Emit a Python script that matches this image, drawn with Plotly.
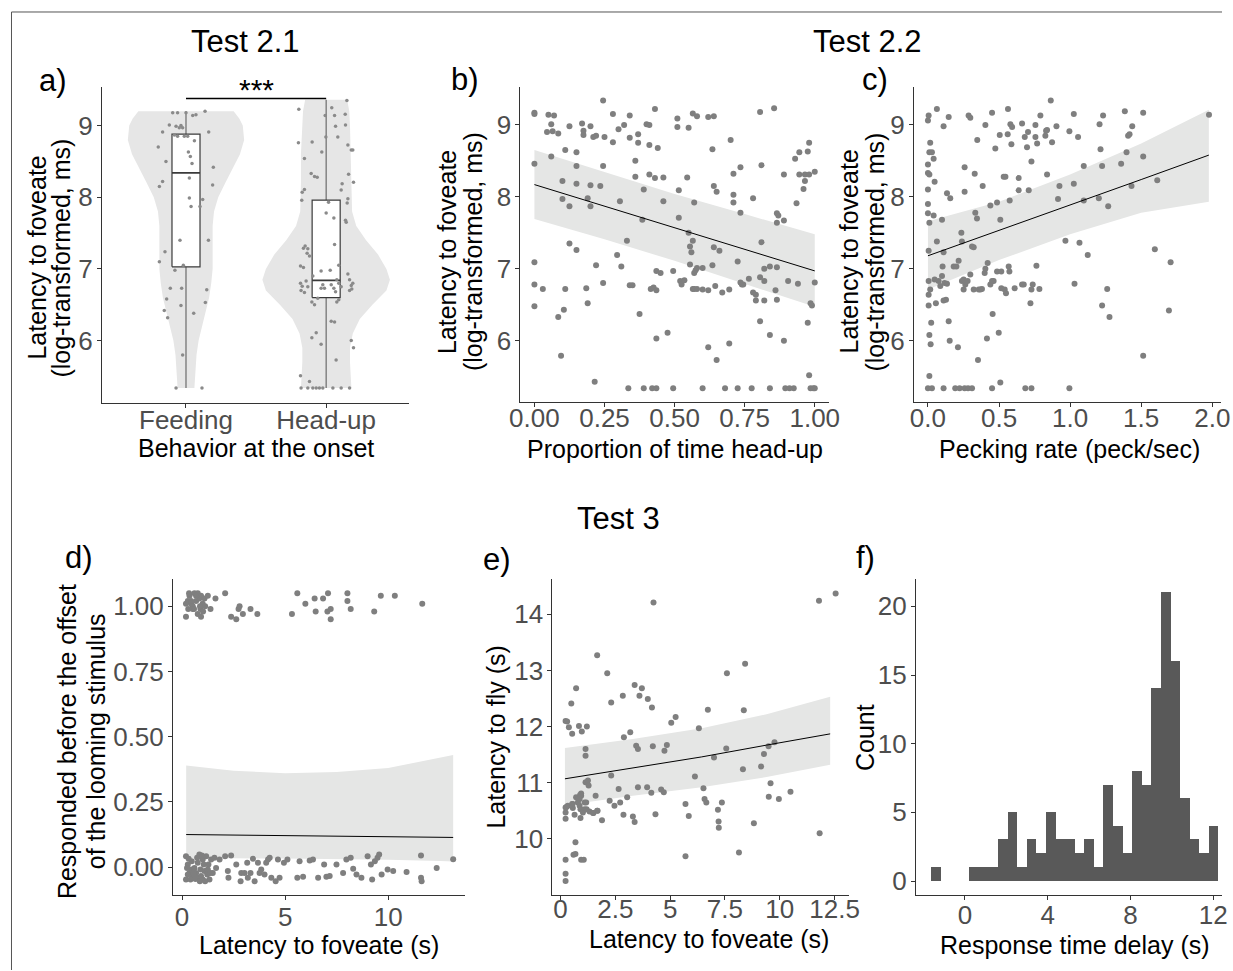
import numpy as np
import plotly.graph_objects as go

W, H = 1233, 971

# The photographed page comes out slightly squeezed horizontally
# (x_photo ~= X_OFF + X_SCALE * x_figure); layout positions below are given in
# target-picture pixels and mapped back through this correction.
X_OFF = 10.2
X_SCALE = 0.981


def fxp(x_target):
    return (x_target - X_OFF) / X_SCALE


def px(x_target):
    return fxp(x_target) / W


def py(y):
    return 1 - y / H


# ======================= DATA =======================
# ---- Panel a : Test 2.1 ----
a_categories = ["Feeding", "Head-up"]
feeding_y = [9.18, 9.18, 9.18, 9.14, 9.15, 9.20, 8.91, 9.01, 8.99, 8.97, 9.00, 8.97, 8.87, 8.85,
             8.85, 8.85, 8.91, 8.79, 8.70, 8.63, 8.57, 8.47, 8.50, 8.42, 8.27, 8.22, 8.15, 8.17,
             7.99, 7.97, 7.87, 7.87, 7.40, 7.40, 7.24, 7.10, 7.05, 6.98, 6.73, 6.73, 6.71, 6.58,
             6.53, 6.49, 6.42, 6.32, 6.38, 5.80, 5.34, 5.34]
feeding_jitter = [-0.095, -0.06, 0.0, 0.048, 0.071, 0.136, -0.167, -0.119, -0.071, -0.048, -0.036,
                  -0.024, -0.083, -0.06, -0.012, 0.012, 0.162, 0.06, -0.198, 0.017, 0.031, 0.043,
                  -0.143, 0.195, 0.024, -0.167, -0.19, 0.19, 0.024, 0.119, 0.036, 0.1, -0.043, 0.16,
                  -0.15, -0.19, -0.019, -0.079, -0.112, -0.031, 0.148, -0.138, 0.138, -0.036, -0.155,
                  -0.131, 0.055, -0.024, -0.071, 0.114]
headup_y = [9.23, 9.25, 9.35, 9.14, 9.14, 9.16, 8.99, 9.01, 8.84, 8.84, 8.76, 8.77, 8.73, 8.66, 8.66,
            8.63, 8.54, 8.33, 8.29, 8.28, 8.32, 8.21, 8.19, 8.07, 8.11, 8.10, 7.98, 7.92, 7.96, 7.93,
            7.78, 7.71, 7.68, 7.65, 7.34, 7.29, 7.32, 7.28, 7.22, 7.18, 7.04, 7.02, 7.05, 6.90, 6.97,
            6.98, 6.80, 6.76, 6.70, 6.67, 6.83, 6.75, 6.73, 6.78, 6.73, 6.78, 6.73, 6.68, 6.85, 6.80,
            6.75, 6.93, 6.85, 6.77, 6.80, 6.70, 6.72, 6.54, 6.50, 6.59, 6.54, 6.57, 6.27, 6.26, 6.04,
            6.11, 5.95, 6.00, 5.90, 5.73, 5.51, 5.43, 5.34, 5.34, 5.34, 5.34, 5.34, 5.34, 5.34, 5.34,
            5.34]
headup_jitter = [-0.195, 0.04, 0.148, -0.007, 0.06, 0.136, 0.067, 0.138, -0.002, 0.083, -0.198, -0.1,
                 0.155, 0.179, 0.19, -0.031, -0.155, -0.107, -0.083, -0.064, 0.16, 0.195, 0.114,
                 -0.171, -0.155, 0.107, 0.155, 0.15, -0.174, 0.017, 0.0, 0.055, 0.138, 0.143, 0.06,
                 -0.162, -0.15, -0.131, -0.136, -0.119, -0.183, -0.162, 0.09, -0.095, -0.036, 0.029,
                 -0.183, -0.171, -0.179, -0.155, -0.143, -0.131, -0.036, -0.024, -0.012, 0.036, 0.055,
                 0.067, 0.076, 0.09, 0.107, 0.155, 0.167, 0.179, 0.19, 0.167, 0.183, -0.102, -0.083,
                 -0.06, 0.076, 0.09, 0.036, 0.06, -0.102, -0.071, -0.036, 0.179, 0.195, 0.071, -0.183,
                 -0.119, -0.179, -0.131, -0.095, -0.071, -0.048, -0.024, 0.048, 0.107, 0.167]
box_lower = [5.34, 5.34]
box_q1 = [7.03, 6.60]
box_median = [8.34, 6.84]
box_q3 = [8.88, 7.96]
box_upper = [9.20, 9.36]
box_halfwidth = 0.1
violin_feed_y = [5.34, 5.6, 5.8, 6.0, 6.2, 6.4, 6.6, 6.8, 7.0, 7.2, 7.4, 7.6, 7.8, 8.0, 8.2, 8.4,
                 8.6, 8.8, 9.0, 9.1, 9.2]
violin_feed_hw = [0.06, 0.07, 0.075, 0.09, 0.115, 0.14, 0.165, 0.18, 0.19, 0.19, 0.19, 0.19, 0.2,
                  0.23, 0.28, 0.33, 0.385, 0.415, 0.405, 0.38, 0.34]
violin_head_y = [5.34, 5.5, 5.7, 5.9, 6.1, 6.3, 6.5, 6.7, 6.85, 7.0, 7.2, 7.4, 7.6, 7.8, 8.2, 8.6,
                 9.0, 9.2, 9.36]
violin_head_hw = [0.18, 0.175, 0.17, 0.17, 0.19, 0.24, 0.33, 0.43, 0.455, 0.43, 0.37, 0.285, 0.215,
                  0.185, 0.18, 0.18, 0.17, 0.165, 0.15]
sig_label = "***"
sig_y = 9.38

# ---- Panel b : proportion of time head-up ----
b_x = [0.00, 0.00, 0.05, 0.07, 0.06, 0.045, 0.065, 0.085, 0.125, 0.06, 0.00,
       0.17, 0.175, 0.175, 0.20, 0.21, 0.22, 0.25, 0.245, 0.28, 0.30, 0.28, 0.32, 0.34, 0.34, 0.37,
       0.37, 0.40, 0.41, 0.41, 0.44, 0.43, 0.36, 0.36, 0.41, 0.43, 0.46, 0.46, 0.39,
       0.11, 0.15, 0.15, 0.15, 0.10, 0.10, 0.125, 0.19, 0.20, 0.20, 0.235, 0.245, 0.305,
       0.00, 0.00, 0.03, 0.00, 0.11, 0.105, 0.085, 0.095, 0.125, 0.15, 0.185, 0.19, 0.215, 0.22,
       0.245, 0.295, 0.31, 0.33, 0.34, 0.35, 0.375, 0.385, 0.435, 0.435, 0.45, 0.415, 0.425, 0.435,
       0.475, 0.495, 0.335, 0.39, 0.42, 0.435, 0.495,
       0.51, 0.51, 0.55, 0.565, 0.58, 0.515, 0.515, 0.545, 0.57, 0.62, 0.64, 0.635, 0.64, 0.65,
       0.70, 0.71, 0.71, 0.71, 0.735, 0.735, 0.78,
       0.55, 0.555, 0.56, 0.565, 0.555, 0.57, 0.575, 0.58, 0.60, 0.635, 0.64, 0.66, 0.52, 0.525,
       0.535, 0.565, 0.57, 0.58, 0.60, 0.62, 0.645, 0.67, 0.695, 0.725, 0.735, 0.74, 0.745, 0.765,
       0.79, 0.79, 0.805, 0.81, 0.82, 0.82, 0.82, 0.84, 0.86, 0.865, 0.865, 0.89, 0.865, 0.865,
       0.87, 0.89, 0.81, 0.78, 0.805, 0.84, 0.89, 0.62, 0.65, 0.695, 0.805, 0.855,
       0.60, 0.68, 0.725, 0.775, 0.84, 0.895, 0.91, 0.925, 0.98, 0.985, 0.995, 1.00,
       0.93, 0.945, 0.98, 0.975, 0.945, 0.965, 0.98, 0.965, 0.96, 0.935, 1.00, 0.905, 0.94, 1.00,
       0.985, 0.99, 0.975]
b_y = [9.17, 9.15, 9.14, 9.13, 9.01, 8.90, 8.91, 8.88, 8.98, 8.56, 8.46,
       9.02, 8.92, 8.86, 8.98, 8.83, 8.85, 8.83, 9.34, 9.15, 8.94, 8.76, 9.00, 9.13, 8.82, 8.87,
       8.75, 9.01, 9.00, 8.72, 8.68, 9.22, 8.50, 8.28, 8.31, 8.26, 8.27, 7.94, 8.10,
       8.65, 8.62, 8.43, 8.18, 8.22, 7.97, 7.87, 7.98, 7.87, 8.16, 8.15, 8.43, 7.94,
       7.09, 6.78, 6.72, 6.48, 6.72, 6.43, 6.33, 5.79, 7.35, 7.26, 6.73, 6.52, 5.43, 7.05,
       6.80, 7.19, 7.03, 7.39, 6.77, 6.77, 6.37, 7.68, 6.03, 6.97, 6.94, 6.72, 6.74, 6.70,
       6.11, 6.97, 5.34, 5.34, 5.34, 5.34, 5.34,
       9.09, 8.97, 8.96, 9.16, 9.12, 8.09, 7.71, 8.27, 7.92, 9.11, 9.12, 8.66, 8.15, 8.07,
       8.79, 8.32, 8.03, 7.92, 8.41, 7.78, 7.98,
       7.50, 7.31, 7.23, 7.39, 7.06, 6.94, 6.98, 7.01, 7.01, 7.05, 7.30, 7.25, 6.83, 6.78,
       6.84, 6.72, 6.72, 6.72, 6.71, 6.70, 6.76, 6.67, 6.71, 7.10, 6.81, 6.78, 6.78, 6.86,
       6.56, 6.64, 6.88, 7.37, 6.83, 7.00, 6.56, 7.03, 6.70, 7.02, 6.57, 8.31, 7.77, 7.64,
       7.74, 7.67, 8.44, 6.67, 6.27, 6.08, 6.00, 5.91, 5.73, 5.96, 9.18, 9.23,
       5.34, 5.34, 5.34, 5.34, 5.34, 5.34, 5.34, 5.34, 5.52, 5.34, 5.34, 5.34,
       8.53, 8.62, 8.75, 8.63, 8.31, 8.31, 8.31, 8.22, 8.11, 7.91, 8.35, 6.83, 6.79, 6.81,
       6.52, 6.49, 6.25]
b_fit_x = [0.0, 0.25, 0.5, 0.75, 1.0]
b_fit_y = [8.17, 7.87, 7.57, 7.27, 6.97]
b_fit_hi = [8.65, 8.34, 8.04, 7.76, 7.48]
b_fit_lo = [7.69, 7.41, 7.11, 6.79, 6.47]

# ---- Panel c : pecking rate ----
c_x = [0.0, 0.005, 0.063, 0.0, 0.0, 0.01, 0.016, 0.01, 0.028, 0.04, 0.047, 0.0, 0.0, 0.0, 0.01, 0.04,
       0.063, 0.005, 0.005, 0.005, 0.005, 0.016, 0.047, 0.056, 0.023, 0.01, 0.019, 0.01, 0.0, 0.028,
       0.075, 0.087, 0.099, 0.103, 0.11, 0.117, 0.134, 0.127, 0.11, 0.099, 0.11, 0.146, 0.134,
       0.157, 0.146, 0.153, 0.11, 0.181, 0.2, 0.216, 0.211, 0.235, 0.239, 0.239, 0.251, 0.251,
       0.263, 0.279, 0.258, 0.258, 0.192, 0.223, 0.258, 0.282, 0.31, 0.286, 0.298, 0.329, 0.333,
       0.345, 0.31, 0.322, 0.298, 0.322, 0.357, 0.369, 0.38, 0.347, 0.352, 0.385, 0.404, 0.399,
       0.404, 0.42, 0.415, 0.439, 0.451, 0.451, 0.439, 0.462, 0.455, 0.451, 0.474, 0.486, 0.486,
       0.498, 0.509, 0.509, 0.505, 0.516, 0.516, 0.54, 0.549, 0.533, 0.545, 0.563, 0.561, 0.568,
       0.573, 0.575, 0.58, 0.592, 0.587, 0.61, 0.638, 0.638, 0.662, 0.662, 0.674, 0.681, 0.685,
       0.697, 0.704, 0.709, 0.728, 0.721, 0.728, 0.737, 0.728, 0.756, 0.756, 0.763, 0.768, 0.784,
       0.791, 0.826, 0.831, 0.838, 0.838, 0.873, 0.904, 0.925, 0.915, 0.967, 0.995, 0.995, 1.026,
       1.026, 1.031, 1.056, 1.066, 1.096, 1.096, 1.124, 1.207, 1.214, 1.225, 1.225, 1.202, 1.232,
       1.268, 1.261, 1.277, 1.359, 1.385, 1.397, 1.408, 1.418, 1.437, 1.432, 1.514, 1.514, 1.514,
       1.613, 1.596, 1.707, 1.695, 1.977, 0.864]
c_y = [9.06, 9.13, 9.22, 8.45, 8.33, 8.31, 8.75, 8.62, 8.62, 8.53, 8.21, 8.10, 7.90, 7.77, 7.64, 7.74,
       7.38, 7.25, 6.83, 6.64, 6.49, 6.71, 6.85, 6.52, 6.25, 6.08, 5.95, 5.51, 5.34, 5.34,
       6.83, 6.76, 6.90, 7.03, 7.23, 6.80, 6.79, 6.57, 6.56, 7.68, 8.98, 9.11, 8.05,
       7.98, 6.27, 6.00, 5.34, 7.03, 7.03, 7.11, 5.91, 7.50, 7.38, 6.83, 6.71, 6.85,
       6.78, 6.83, 8.41, 8.07, 5.34, 5.34, 5.34, 5.34, 5.34, 9.13, 9.10, 8.32, 7.78,
       7.70, 7.31, 7.30, 6.92, 6.71, 6.71, 6.71, 6.72, 8.79, 5.73, 8.15, 9.00, 6.94,
       7.00, 7.08, 6.03, 7.88, 9.17, 6.83, 6.78, 6.83, 6.37, 5.34, 8.67, 7.92, 6.96,
       6.11, 5.42, 7.68, 8.86, 6.96, 6.73, 6.71, 6.66, 8.28, 8.28, 9.22, 8.87, 7.03,
       6.96, 7.95, 9.01, 8.97, 8.73, 6.73, 8.26, 8.09, 9.02, 6.78, 6.78, 8.83, 5.34,
       8.69, 8.90, 8.09, 8.49, 6.52, 6.71, 6.78, 5.34, 9.00, 8.83, 7.04, 8.74, 6.72,
       9.13, 8.85, 8.92, 8.93, 8.31, 8.76, 8.98, 8.15, 7.97, 7.39, 8.91, 5.34, 9.15,
       8.18, 6.79, 8.83, 7.36, 8.43, 7.95, 7.19, 9.01, 8.66, 8.43, 6.49, 7.98, 9.13,
       7.87, 6.72, 6.33, 8.46, 9.19, 8.62, 8.85, 8.87, 8.98, 8.15, 9.17, 8.56, 5.79,
       8.23, 7.27, 7.09, 6.42, 9.14, 9.34]
c_fit_x = [0.0, 0.5, 1.0, 1.5, 1.976]
c_fit_y = [7.18, 7.53, 7.89, 8.24, 8.58]
c_fit_hi = [7.66, 7.93, 8.31, 8.74, 9.21]
c_fit_lo = [6.71, 7.12, 7.48, 7.78, 7.93]

# ---- Panel d : responded before offset ----
d_x = [0.19, 0.28, 0.36, 0.44, 0.52, 0.60, 0.68, 0.76, 0.84, 0.92, 1.00, 1.09, 0.89, 0.76, 0.92, 0.19,
       0.52, 1.25, 1.38, 1.62, 2.09, 2.38, 2.63, 2.74, 2.79, 2.95, 3.32, 3.65, 5.33, 5.59, 5.98,
       6.43, 6.48, 6.84, 7.05, 7.08, 7.21, 7.21, 8.02, 8.02, 8.18, 9.32, 9.64, 10.32, 11.65,
       0.34, 0.58, 0.87, 1.02, 1.12, 0.44, 0.68, 0.30,
       0.19, 0.28, 0.36, 0.44, 0.52, 0.19, 0.28, 0.41, 0.60, 0.68, 0.76, 0.76, 0.84, 0.89, 0.92,
       1.00, 1.00, 1.09, 1.17, 1.22, 1.28, 1.33, 1.41, 1.49, 1.57, 1.65, 1.82, 2.09, 2.22, 2.25,
       2.38, 2.63, 2.84, 2.87, 3.03, 3.16, 3.19, 3.32, 3.44, 3.52, 3.68, 3.76, 3.84, 4.00, 4.08,
       4.17, 4.25, 4.33, 4.54, 4.65, 4.73, 4.94, 5.11, 5.59, 5.70, 5.87, 6.19, 6.35, 6.60, 6.89,
       7.00, 7.16, 7.49, 7.81, 7.97, 8.18, 8.30, 8.46, 8.70, 9.00, 9.16, 9.22, 9.35, 9.48, 9.56,
       9.68, 9.97, 10.24, 10.89, 11.59, 11.59, 11.62, 12.35, 13.15,
       0.24, 0.47, 0.65, 0.86, 1.05, 1.12, 1.25, 1.38, 0.96, 0.57, 0.32, 0.73]
d_y = [1.01, 1.02, 1.04, 1.01, 1.00, 1.05, 1.02, 1.05, 1.03, 1.04, 1.01, 1.03, 0.99, 0.97, 0.96, 0.96,
       0.99, 1.04, 0.99, 1.03, 1.05, 0.96, 0.95, 0.99, 1.00, 0.97, 0.99, 0.97, 0.97, 1.05, 1.01,
       1.03, 0.98, 1.03, 0.98, 1.05, 0.99, 0.95, 1.05, 1.02, 0.99, 0.98, 1.04, 1.04, 1.01,
       1.05, 0.99, 1.00, 0.98, 1.00, 1.02, 1.04, 0.99,
       0.042, 0.010, -0.022, -0.009, -0.034, -0.047, -0.028, -0.047, -0.003, -0.022, 0.017, -0.041,
       0.049, -0.009, -0.034, 0.029, -0.047, -0.015, 0.042, -0.028, 0.010, -0.047, 0.029, -0.022,
       0.036, -0.003, 0.029, 0.042, -0.015, -0.041, 0.045, 0.010, -0.054, -0.022, -0.022, 0.017,
       -0.041, -0.022, 0.032, -0.054, 0.017, -0.022, -0.009, -0.028, 0.017, 0.029, 0.036, -0.041,
       -0.054, 0.029, -0.041, 0.017, 0.029, -0.041, 0.023, -0.037, 0.026, 0.029, -0.041, 0.010,
       -0.037, -0.034, 0.010, -0.022, 0.029, 0.036, -0.006, -0.028, -0.041, 0.042, 0.010, -0.047,
       0.023, 0.036, 0.049, -0.028, -0.009, -0.015, -0.019, 0.045, -0.041, -0.054, -0.003, 0.030,
       -0.003, 0.023, -0.045, -0.054, 0.010, -0.054, -0.009, -0.022, 0.045, -0.022, 0.032, 0.036]
d_fit_x = [0.2, 2.5, 5.0, 7.5, 10.0, 12.5, 13.15]
d_fit_y = [0.125, 0.123, 0.121, 0.119, 0.117, 0.115, 0.114]
d_fit_hi = [0.39, 0.37, 0.36, 0.365, 0.38, 0.42, 0.43]
d_fit_lo = [0.035, 0.034, 0.033, 0.031, 0.028, 0.024, 0.022]

# ---- Panel e : latency to fly ----
e_x = [0.23, 0.23, 0.23, 0.59, 0.68, 0.68, 0.94, 1.06, 0.23, 0.23, 0.23, 0.33, 0.53, 0.56, 0.64, 0.71,
       0.79, 0.87, 0.91, 0.94, 0.94, 0.87, 1.02, 0.91, 1.09, 1.17, 1.14, 1.25, 1.28, 1.32, 1.48,
       1.60, 1.67, 1.89, 2.24, 2.31, 2.46, 2.65, 2.72, 2.87, 3.04, 3.30, 3.38, 3.53, 3.95, 4.14,
       4.33, 4.59, 4.71, 0.23, 0.30, 0.38, 0.49, 0.53, 0.71, 0.84, 0.97, 1.20, 1.14, 1.14, 1.67,
       2.13, 2.31, 2.84, 2.89, 3.18, 3.38, 3.45, 3.53, 3.60, 3.71, 3.98, 4.17, 4.21, 4.24, 4.74,
       4.85, 5.05, 5.25, 5.70, 5.85, 5.70, 6.13, 6.31, 6.52, 6.57, 6.65, 6.72, 7.00, 7.18, 7.21,
       7.22, 7.36, 7.59, 7.56, 8.14, 8.32, 8.36, 8.42, 8.82, 9.15, 9.28, 9.49, 9.50, 9.58, 9.76,
       9.96, 10.49, 11.79, 11.82, 12.55, 0.27, 0.55, 0.81, 0.89, 1.19, 1.10, 1.50, 1.69]
e_y = [9.25, 9.38, 9.63, 9.72, 9.73, 9.94, 9.63, 9.63, 10.36, 10.47, 10.56, 10.59, 10.62, 10.55, 10.43,
       10.74, 10.65, 10.59, 10.53, 10.77, 10.81, 10.71, 10.47, 10.37, 10.53, 10.65, 11.01, 11.04,
       10.95, 10.49, 10.46, 10.77, 10.50, 10.33, 10.68, 11.13, 10.59, 10.89, 10.65, 10.43, 10.74,
       10.40, 10.30, 10.92, 10.92, 10.82, 10.44, 10.88, 10.83, 12.10, 12.09, 11.99, 12.41, 11.87,
       12.68, 12.01, 11.91, 12.00, 11.60, 11.48, 13.27, 12.95, 12.43, 12.55, 11.81, 11.90, 12.74,
       11.66, 11.60, 12.55, 12.68, 12.49, 12.34, 11.65, 14.21, 11.57, 11.67, 12.07, 12.17, 10.62,
       10.41, 9.69, 11.11, 11.97, 10.90, 10.71, 10.65, 12.30, 11.45, 10.52, 10.31, 10.20, 10.65,
       12.95, 11.61, 9.76, 11.24, 12.29, 13.12, 10.28, 11.29, 11.51, 11.65, 10.75, 10.99, 11.72,
       10.71, 10.84, 14.24, 10.10, 14.37, 10.57, 10.62, 10.71, 10.78, 10.53, 10.65, 10.46, 10.50]
e_fit_x = [0.2, 3.3, 6.44, 9.4, 12.3]
e_fit_y = [11.07, 11.27, 11.46, 11.67, 11.87]
e_fit_hi = [11.62, 11.78, 11.97, 12.22, 12.53]
e_fit_lo = [10.60, 10.77, 10.92, 11.10, 11.32]

# ---- Panel f : histogram of response time delay ----
f_bin_start = -1.645
f_bin_width = 0.463
f_counts = [1, 0, 0, 0, 1, 1, 1, 3, 5, 1, 3, 2, 5, 3, 3, 2, 3, 1, 7, 4, 2, 8, 7, 14, 21, 16, 6, 3, 2, 4]

# ======================= STYLE =======================
FONT = "Arial, Liberation Sans, Helvetica, sans-serif"
PT_COLOR = "#7f7f7f"
RIBBON = "#e5e6e5"
AX_COL = "#333333"
TICK_COL = "#4d4d4d"
TICK_SIZE = 26
TITLE_SIZE = 25
BIG_SIZE = 31

fig = go.Figure()

# ---------- Panel a ----------
for i, (vy, vhw) in enumerate([(violin_feed_y, violin_feed_hw), (violin_head_y, violin_head_hw)]):
    vy = np.array(vy)
    vhw = np.array(vhw)
    xs = np.concatenate([i + vhw, (i - vhw)[::-1]])
    ys = np.concatenate([vy, vy[::-1]])
    fig.add_trace(go.Scatter(x=xs, y=ys, mode="lines", fill="toself", fillcolor="#e6e6e6",
                             line=dict(width=0), hoverinfo="skip", showlegend=False,
                             xaxis="x", yaxis="y"))

for i in range(len(a_categories)):
    fig.add_trace(go.Scatter(x=[i, i, None, i, i],
                             y=[box_lower[i], box_q1[i], None, box_q3[i], box_upper[i]],
                             mode="lines", line=dict(color="#6b6b6b", width=1.2),
                             hoverinfo="skip", showlegend=False, xaxis="x", yaxis="y"))
    x0, x1 = i - box_halfwidth, i + box_halfwidth
    fig.add_trace(go.Scatter(x=[x0, x1, x1, x0, x0],
                             y=[box_q1[i], box_q1[i], box_q3[i], box_q3[i], box_q1[i]],
                             mode="lines", fill="toself", fillcolor="white",
                             line=dict(color="#3a3a3a", width=1.2),
                             hoverinfo="skip", showlegend=False, xaxis="x", yaxis="y"))
    fig.add_trace(go.Scatter(x=[x0, x1], y=[box_median[i], box_median[i]], mode="lines",
                             line=dict(color="#3a3a3a", width=1.8),
                             hoverinfo="skip", showlegend=False, xaxis="x", yaxis="y"))

fig.add_trace(go.Scatter(x=[0 + j for j in feeding_jitter], y=feeding_y, mode="markers",
                         marker=dict(color="#8a8a8a", size=3.5), showlegend=False,
                         xaxis="x", yaxis="y"))
fig.add_trace(go.Scatter(x=[1 + j for j in headup_jitter], y=headup_y, mode="markers",
                         marker=dict(color="#8a8a8a", size=3.5), showlegend=False,
                         xaxis="x", yaxis="y"))


# ---------- regression panels ----------
def add_reg_panel(xs, ys, fx, fy, fhi, flo, ax):
    fig.add_trace(go.Scatter(x=list(fx) + list(fx)[::-1], y=list(fhi) + list(flo)[::-1],
                             mode="lines", fill="toself", fillcolor=RIBBON, line=dict(width=0),
                             hoverinfo="skip", showlegend=False, xaxis="x" + ax, yaxis="y" + ax))
    fig.add_trace(go.Scatter(x=xs, y=ys, mode="markers", marker=dict(color=PT_COLOR, size=6),
                             showlegend=False, xaxis="x" + ax, yaxis="y" + ax))
    fig.add_trace(go.Scatter(x=fx, y=fy, mode="lines", line=dict(color="black", width=1),
                             showlegend=False, xaxis="x" + ax, yaxis="y" + ax))


add_reg_panel(b_x, b_y, b_fit_x, b_fit_y, b_fit_hi, b_fit_lo, "2")
add_reg_panel(c_x, c_y, c_fit_x, c_fit_y, c_fit_hi, c_fit_lo, "3")
add_reg_panel(d_x, d_y, d_fit_x, d_fit_y, d_fit_hi, d_fit_lo, "4")
add_reg_panel(e_x, e_y, e_fit_x, e_fit_y, e_fit_hi, e_fit_lo, "5")

# ---------- Panel f ----------
f_centers = [f_bin_start + f_bin_width * (k + 0.5) for k in range(len(f_counts))]
fig.add_trace(go.Bar(x=f_centers, y=f_counts, width=f_bin_width,
                     marker=dict(color="#595959", line=dict(width=0)),
                     showlegend=False, xaxis="x6", yaxis="y6"))

# ======================= LAYOUT =======================
# panel boxes in target pixels: (left, right, top, bottom)
boxes = {
    "": (101, 408, 87, 403),
    "2": (519, 827, 87, 402),
    "3": (912, 1219, 87, 402),
    "4": (172, 464, 580, 896),
    "5": (551, 847, 580, 896),
    "6": (914, 1230, 580, 896),
}
ranges = {
    "": ([-0.6, 1.593], [5.135, 9.54]),
    "2": ([-0.05, 1.05], [5.153, 9.528]),
    "3": ([-0.099, 2.063], [5.153, 9.528]),
    "4": ([-0.44, 13.74], [-0.107, 1.103]),
    "5": ([-0.37, 13.15], [9.0, 14.62]),
    "6": ([-2.37, 12.92], [-1.02, 21.96]),
}
xticks = {
    "": ([0, 1], a_categories),
    "2": ([0, 0.25, 0.5, 0.75, 1.0], ["0.00", "0.25", "0.50", "0.75", "1.00"]),
    "3": ([0, 0.5, 1.0, 1.5, 2.0], ["0.0", "0.5", "1.0", "1.5", "2.0"]),
    "4": ([0, 5, 10], ["0", "5", "10"]),
    "5": ([0, 2.5, 5, 7.5, 10, 12.5], ["0", "2.5", "5", "7.5", "10", "12.5"]),
    "6": ([0, 4, 8, 12], ["0", "4", "8", "12"]),
}
yticks = {
    "": ([6, 7, 8, 9], ["6", "7", "8", "9"]),
    "2": ([6, 7, 8, 9], ["6", "7", "8", "9"]),
    "3": ([6, 7, 8, 9], ["6", "7", "8", "9"]),
    "4": ([0, 0.25, 0.5, 0.75, 1.0], ["0.00", "0.25", "0.50", "0.75", "1.00"]),
    "5": ([10, 11, 12, 13, 14], ["10", "11", "12", "13", "14"]),
    "6": ([0, 5, 10, 15, 20], ["0", "5", "10", "15", "20"]),
}
x_label_standoff = {"": -10, "2": -11, "3": -11, "4": -5, "5": -13, "6": -7}

axis_common = dict(showline=True, linecolor=AX_COL, linewidth=1, ticks="outside", ticklen=4,
                   tickcolor=AX_COL, tickwidth=1, showgrid=False, zeroline=False,
                   tickfont=dict(family=FONT, size=TICK_SIZE, color=TICK_COL), fixedrange=True)

layout_axes = {}
for key, (l, r, t, b) in boxes.items():
    xr, yr = ranges[key]
    fig_l = fxp(l)
    fig_r = min(fxp(r), W)
    # if the right edge had to be clamped, shorten the range so the data scale is kept
    r_eff = X_OFF + X_SCALE * fig_r
    xr_eff = [xr[0], xr[0] + (xr[1] - xr[0]) * (r_eff - l) / (r - l)]
    layout_axes["xaxis" + key] = dict(axis_common, domain=[fig_l / W, fig_r / W], range=xr_eff,
                                      anchor="y" + key, tickvals=xticks[key][0],
                                      ticktext=xticks[key][1],
                                      ticklabelstandoff=x_label_standoff[key])
    layout_axes["yaxis" + key] = dict(axis_common, domain=[py(b), py(t)], range=yr,
                                      anchor="x" + key, tickvals=yticks[key][0],
                                      ticktext=yticks[key][1], ticklabelstandoff=-1)

annotations = []


def ann(text, x, y, size, color="black", angle=0):
    annotations.append(dict(text=text, x=px(x), y=py(y), xref="paper", yref="paper",
                            showarrow=False, xanchor="center", yanchor="middle",
                            textangle=angle, font=dict(family=FONT, size=size, color=color)))


ann("Test 2.1", 244, 42, BIG_SIZE)
ann("Test 2.2", 866, 42, BIG_SIZE)
ann("Test 3", 617, 519, BIG_SIZE)
ann("a)", 52, 81, BIG_SIZE)
ann("b)", 464, 80, BIG_SIZE)
ann("c)", 873, 80, BIG_SIZE)
ann("d)", 78, 558, BIG_SIZE)
ann("e)", 496, 560, BIG_SIZE)
ann("f)", 864, 558, BIG_SIZE)
ann("Behavior at the onset", 255, 448, TITLE_SIZE)
ann("Proportion of time head-up", 673, 449, TITLE_SIZE)
ann("Pecking rate (peck/sec)", 1067, 449, TITLE_SIZE)
ann("Latency to foveate (s)", 318, 946, TITLE_SIZE)
ann("Latency to foveate (s)", 707, 940, TITLE_SIZE)
ann("Response time delay (s)", 1073, 946, TITLE_SIZE)
for (xl1, xl2, yc) in [(36, 60, 258), (445, 471, 252), (847, 873, 252)]:
    ann("Latency to foveate", xl1, yc, TITLE_SIZE, angle=-90)
    ann("(log-transformed, ms)", xl2, yc, TITLE_SIZE, angle=-90)
ann("Responded before the offset", 66, 742, TITLE_SIZE, angle=-90)
ann("of the looming stimulus", 95, 742, TITLE_SIZE, angle=-90)
ann("Latency to fly (s)", 495, 738, TITLE_SIZE, angle=-90)
ann("Count", 863, 738, TITLE_SIZE, angle=-90)

annotations.append(dict(text=sig_label, x=0.5, y=sig_y, xref="x", yref="y", showarrow=False,
                        xanchor="center", yanchor="middle", yshift=9,
                        font=dict(family=FONT, size=30, color="black")))

border_left = max(fxp(8), 0.5)
shapes = [
    dict(type="line", xref="x", yref="y", x0=0, x1=1, y0=sig_y, y1=sig_y,
         line=dict(color="black", width=1.5)),
    dict(type="line", xref="paper", yref="paper", x0=border_left / W, x1=1, y0=py(12), y1=py(12),
         line=dict(color="#555555", width=1)),
    dict(type="line", xref="paper", yref="paper", x0=border_left / W, x1=border_left / W,
         y0=py(12), y1=0, line=dict(color="#555555", width=1)),
]

fig.update_layout(
    width=W, height=H, autosize=False,
    margin=dict(l=0, r=0, t=0, b=0, pad=0),
    paper_bgcolor="white", plot_bgcolor="white",
    font=dict(family=FONT, color="black"),
    annotations=annotations, shapes=shapes,
    showlegend=False, bargap=0,
    **layout_axes,
)

fig.write_html("out.html", config={"displayModeBar": False, "responsive": False},
               post_script="document.documentElement.style.overflow='hidden';"
                           "document.body.style.margin='0';document.body.style.overflow='hidden';")
